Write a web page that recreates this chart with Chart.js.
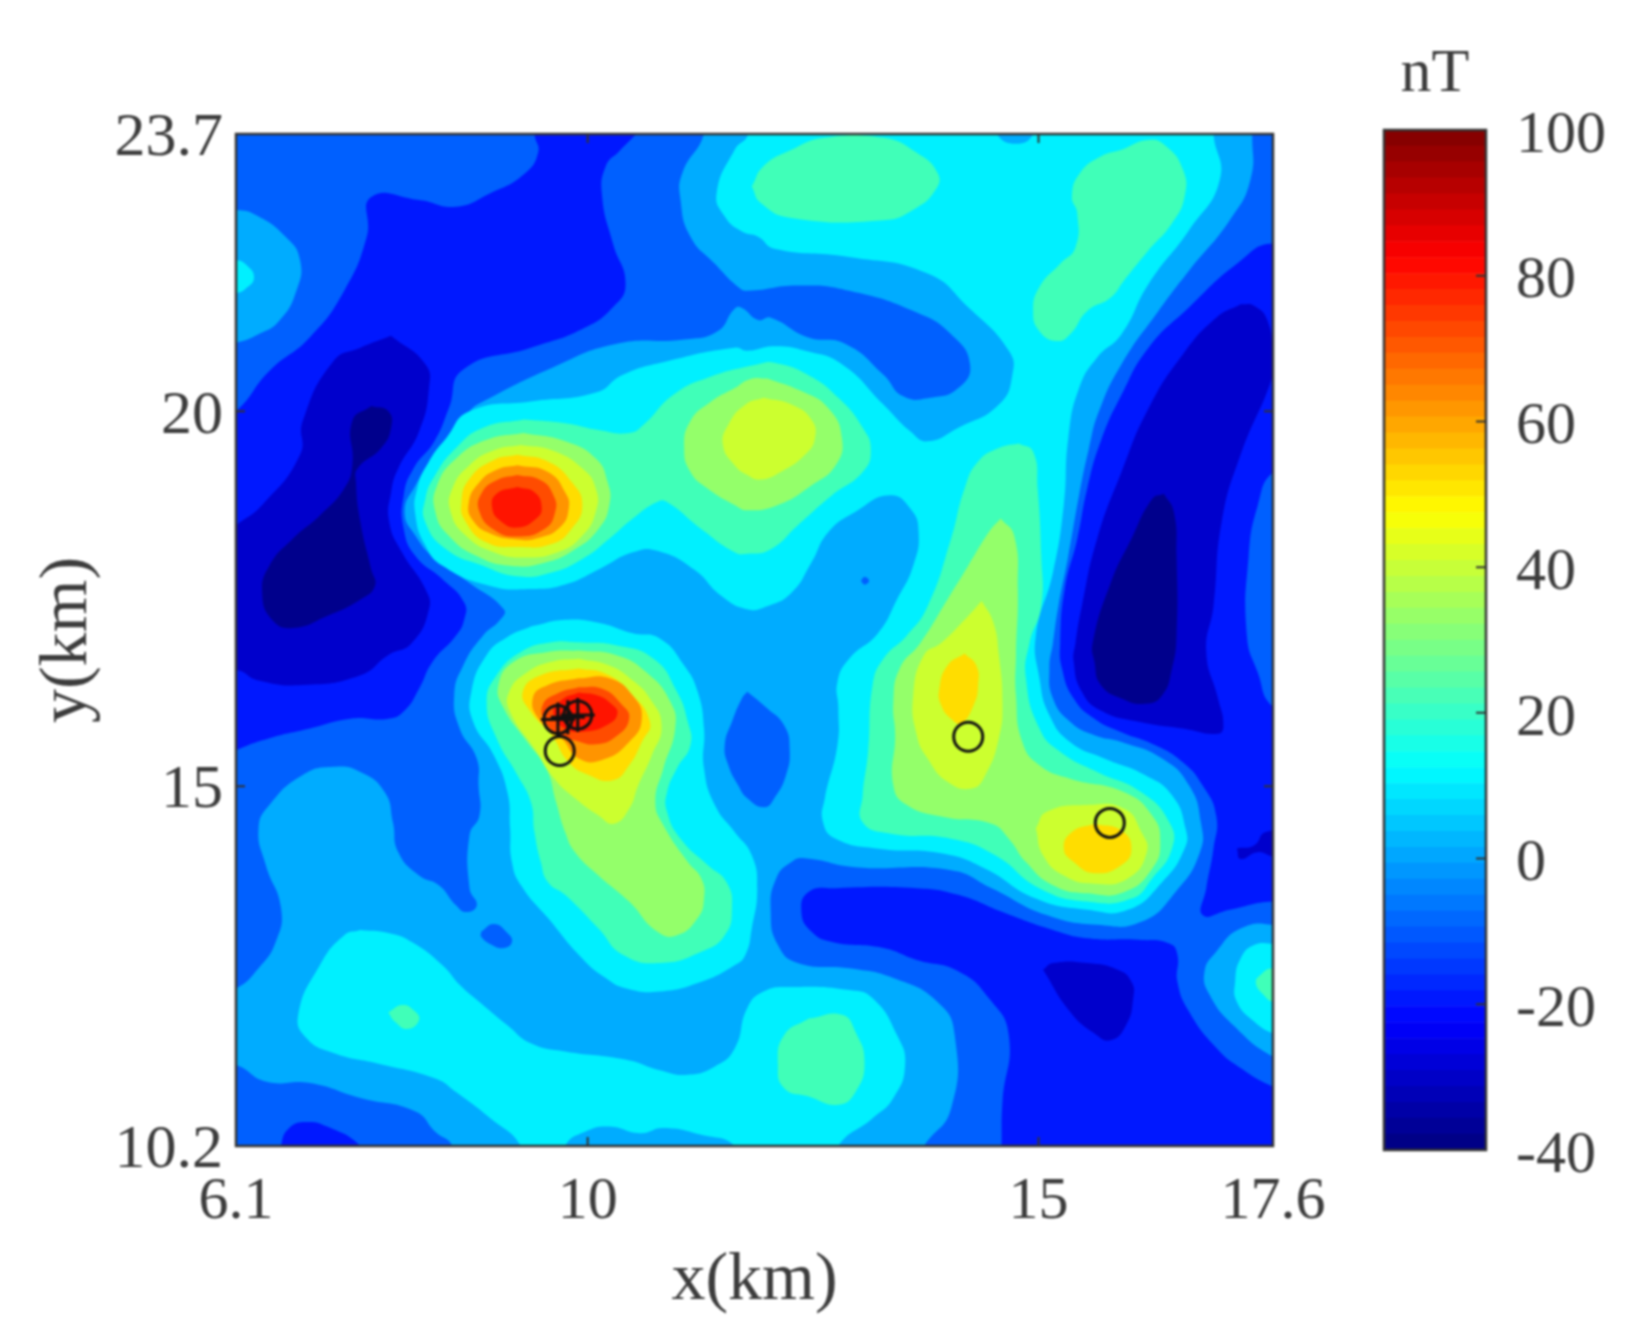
<!DOCTYPE html>
<html>
<head>
<meta charset="utf-8">
<title>Magnetic anomaly map</title>
<script src="https://cdn.jsdelivr.net/npm/chart.js@4"></script>
<style>
  body { margin: 0; background: #fff; }
  canvas { position: absolute; top: 0; filter: blur(0.9px); }
  #myChart { left: 0; }
  #colorBar { left: 1340px; }
</style>
</head>
<body>
<canvas id="myChart" width="1628" height="1340"></canvas>
<canvas id="colorBar" width="288" height="1340"></canvas>
<script>
// axis ticks
const xTicks = [6.1, 10, 15, 17.6];
const yTicks = [10.2, 15, 20, 23.7];
const xInnerTicks = [10, 15];
const yInnerTicks = [15, 20];

// markers, km
const circles = [[9.69,15.47],[14.22,15.66],[15.79,14.51]];
const crossedCircles = [[9.67,15.89],[9.89,15.95]];
const crosses = [[9.67,15.89],[9.78,15.92],[9.89,15.95]];

// contour outlines, [x km, y km]
const plotArea = [[5,9],[5,25],[19,25],[19,9]];

const blueTopLeft = [[9.41,24.1],[9.41,23.7],[9.45,23.45],[9.29,23.16],[8.92,22.91],[8.54,22.73],[8.13,22.82],[7.6,22.86],[7.55,22.33],[7.3,21.61],[6.92,20.99],[6.47,20.54],[6.1,20],[5.8,19.8],[5.8,15.3],[6.1,15.48],[6.47,15.64],[6.92,15.77],[7.37,15.9],[7.79,15.9],[7.97,16.01],[8.13,16.3],[8.28,16.66],[8.54,17.01],[8.63,17.22],[8.63,17.45],[8.39,17.76],[8.09,18.07],[7.96,18.43],[7.96,18.88],[8.07,19.24],[8.3,19.6],[8.46,20.04],[8.62,20.56],[9.37,20.85],[9.94,21.1],[10.28,21.39],[10.42,21.7],[10.28,22.24],[10.16,22.87],[10.2,23.27],[10.35,23.47],[10.54,23.7],[10.7,23.9]];
const blueBottomRight = [[14.59,9.8],[14.59,10.2],[14.6,10.79],[14.67,11.68],[14.45,12.17],[14.11,12.53],[13.65,12.68],[13.28,12.84],[12.71,12.92],[12.48,13.06],[12.37,13.32],[12.45,13.59],[12.75,13.64],[13.65,13.64],[14.11,13.55],[14.6,13.32],[15.16,13.08],[15.54,12.97],[16.11,12.95],[16.45,12.9],[16.54,12.75],[16.54,12.39],[16.67,11.99],[16.97,11.51],[17.24,11.24],[17.6,10.99],[18.2,10.7],[18.2,9.8]];
const blueRight = [[18,22],[17.6,22.24],[17.2,21.97],[16.67,21.39],[16.22,20.85],[15.92,20.22],[15.69,19.6],[15.54,18.97],[15.43,18.3],[15.29,17.63],[15.24,16.91],[15.26,16.57],[15.39,16.17],[15.62,15.9],[15.92,15.72],[16.29,15.55],[16.6,15.32],[16.82,15.01],[16.97,14.61],[16.94,14.17],[16.86,13.64],[16.82,13.28],[17.12,13.35],[17.6,13.46],[18,13.4],[18,15.9],[17.6,16.06],[17.43,16.52],[17.31,17.01],[17.33,18.07],[17.43,18.74],[17.6,19.19],[18,19.4]];
const blueBottomLeft = [[6.6,9.9],[6.6,10.2],[6.69,10.44],[6.88,10.52],[7.11,10.46],[7.48,10.2],[7.6,9.9]];

const darkLeft = [[7.82,21.01],[8.2,20.63],[8.24,20.31],[8.13,19.73],[7.9,19.24],[7.82,18.92],[7.8,18.52],[7.94,18.12],[8.2,17.63],[8.24,17.36],[8.05,16.91],[7.79,16.75],[7.48,16.48],[6.84,16.35],[6.35,16.41],[6.1,16.55],[5.8,16.5],[5.8,18.2],[6.1,18.48],[6.39,18.75],[6.81,19.42],[6.84,19.87],[7.18,20.67],[7.48,20.85]];
const darkRight = [[17.24,21.43],[16.97,21.25],[16.6,20.76],[16.22,20.04],[15.92,19.19],[15.65,18.3],[15.48,17.4],[15.41,16.91],[15.39,16.66],[15.48,16.26],[15.69,16.01],[16.11,15.86],[16.6,15.77],[16.99,15.7],[17.05,15.81],[16.99,16.17],[16.86,16.79],[16.94,17.4],[17.03,18.52],[17.24,19.42],[17.6,20.49],[17.6,20.76],[17.54,21.21],[17.39,21.41]];
const darkMiddle = [[15.05,12.55],[15.16,12.64],[15.54,12.64],[15.88,12.55],[16.03,12.39],[16.05,12.17],[15.97,11.81],[15.8,11.61],[15.62,11.7],[15.35,11.99]];
const darkEdge = [[17.2,14.17],[17.39,14.21],[17.52,14.39],[17.8,14.35],[17.8,14.05],[17.6,14.06],[17.43,14.12],[17.24,14.03]];

const navyLeft = [[7.6,20.07],[7.79,20],[7.82,19.78],[7.71,19.51],[7.45,19.24],[7.43,19.06],[7.48,18.52],[7.6,17.89],[7.64,17.67],[7.48,17.49],[7.11,17.27],[6.73,17.11],[6.5,17.22],[6.39,17.58],[6.47,17.94],[6.73,18.3],[7.03,18.61],[7.3,18.97],[7.39,19.28],[7.39,19.87]];
const navyRight = [[16.39,18.9],[16.26,18.83],[16.03,18.3],[15.8,17.71],[15.6,16.91],[15.62,16.66],[15.69,16.35],[15.92,16.17],[16.18,16.1],[16.37,16.21],[16.48,16.57],[16.53,17.01],[16.53,18.07],[16.5,18.66]];

const skyMain = [[17.37,24.1],[17.37,23.7],[17.35,23.09],[17.12,22.55],[16.67,21.88],[16.33,21.34],[15.92,20.63],[15.67,20],[15.56,19.51],[15.45,18.88],[15.33,18.07],[15.22,17.4],[15.16,16.91],[15.12,16.57],[15.16,16.17],[15.35,15.86],[15.62,15.68],[15.92,15.59],[16.37,15.37],[16.67,15.01],[16.8,14.52],[16.79,14.12],[16.52,13.59],[16.14,13.19],[15.65,13.15],[15.09,13.28],[14.48,13.64],[14.03,13.88],[12.97,13.92],[12.41,14.04],[12.26,13.99],[12.09,13.77],[12.03,13.32],[12.11,12.88],[12.33,12.64],[12.9,12.57],[13.39,12.44],[13.88,12.12],[14.07,11.68],[14.03,10.7],[13.73,10.2],[13.6,9.9],[8.5,9.9],[8.5,10.2],[8.31,10.39],[8.09,10.66],[7.48,10.84],[6.92,11.04],[6.43,11.06],[6.1,11.28],[5.8,11.3],[5.8,12.2],[6.1,12.3],[6.35,12.57],[6.54,12.92],[6.6,13.37],[6.43,13.95],[6.35,14.44],[6.47,14.75],[6.84,15.15],[7.18,15.26],[7.48,15.19],[7.75,14.92],[7.84,14.52],[7.9,14.12],[8.13,13.81],[8.35,13.68],[8.54,13.41],[8.65,13.32],[8.77,13.41],[8.69,13.64],[8.69,14.35],[8.8,14.61],[8.79,15.01],[8.77,15.37],[8.58,15.77],[8.52,16.21],[8.62,16.61],[8.84,17.01],[9.03,17.22],[9.07,17.36],[8.69,17.71],[8.31,18.03],[8.09,18.34],[7.97,18.66],[8.09,19.01],[8.31,19.42],[8.46,19.6],[8.69,20],[8.84,20.13],[9.6,20.58],[10.31,20.9],[11.07,20.96],[11.44,21.07],[11.63,21.37],[11.71,21.38],[11.89,21.22],[12.03,21.25],[12.44,20.99],[12.86,20.9],[13.28,20.49],[13.5,20.2],[13.8,20.18],[14.11,20.31],[14.24,20.63],[14.03,21.03],[13.65,21.32],[12.9,21.61],[12.33,21.68],[11.77,21.61],[11.67,21.66],[11.41,21.97],[11.14,22.33],[11.03,22.82],[11.05,23.18],[11.29,23.7],[11.29,24.1]];
const skyLeftEdge = [[5.8,22.7],[6.1,22.69],[6.32,22.62],[6.65,22.33],[6.81,22.02],[6.77,21.61],[6.58,21.21],[6.35,21.03],[6.1,20.92],[5.8,20.9]];
const skyRightEdge = [[17.9,13],[17.6,13.15],[17.24,13.1],[16.97,12.79],[16.84,12.52],[16.9,12.21],[17.16,11.81],[17.6,11.39],[17.9,11.3]];

const lakeMiddle = [[11.77,16.26],[11.99,16.04],[12.18,15.81],[12.24,15.5],[12.2,15.15],[12.07,14.84],[11.96,14.72],[11.77,14.84],[11.67,15.01],[11.56,15.28],[11.52,15.55],[11.6,15.86],[11.71,16.17]];
const lakeOval = [[8.82,13.06],[8.96,13.16],[9.11,13.04],[9.16,12.92],[9.07,12.84],[8.94,12.88],[8.82,12.99]];
const lakeDot = [[13.03,17.74],[13.07,17.79],[13.12,17.74],[13.07,17.69]];

const cyanMain = [[11.78,24.1],[11.78,23.7],[11.63,23.49],[11.43,22.91],[11.52,22.6],[11.71,22.4],[11.89,22.33],[12.07,22.17],[12.9,22.06],[13.77,21.84],[14.22,21.39],[14.67,20.81],[14.71,20.49],[14.56,20.09],[14.11,19.78],[13.77,19.6],[13.58,19.73],[13.28,20.09],[12.82,20.63],[12.41,20.81],[12.07,20.87],[11.77,20.81],[11.63,20.85],[10.88,20.67],[10.39,20.49],[10.09,20.25],[9.37,20.13],[8.69,20],[8.43,19.64],[8.24,19.33],[8.11,18.97],[8.09,18.61],[8.2,18.21],[8.39,17.94],[8.92,17.67],[9.37,17.63],[9.75,17.69],[10.12,17.89],[10.5,18.12],[10.77,18.14],[11.18,17.89],[11.48,17.54],[11.77,17.36],[11.99,17.4],[12.26,17.58],[12.48,17.98],[12.67,18.39],[12.97,18.66],[13.35,18.88],[13.58,18.7],[13.67,18.39],[13.61,17.94],[13.43,17.49],[13.22,17.04],[12.9,16.7],[12.77,16.39],[12.78,16.04],[12.77,15.55],[12.63,14.84],[12.61,14.52],[12.75,14.3],[13.2,14.17],[13.95,14.1],[14.41,13.9],[14.97,13.5],[15.54,13.35],[15.99,13.35],[16.37,13.72],[16.62,14.17],[16.63,14.44],[16.48,14.88],[16.18,15.15],[15.73,15.37],[15.35,15.59],[15.12,15.95],[15.01,16.44],[14.97,17.01],[15.16,17.85],[15.28,18.75],[15.33,19.64],[15.45,20.31],[15.65,20.72],[15.92,21.03],[16.22,21.7],[16.67,22.42],[17.01,23.09],[16.94,23.7],[16.94,24.1]];
const cyanHot = [[9.37,17.13],[9.75,17.22],[10.12,17.18],[10.5,17.04],[10.8,16.97],[11.07,16.61],[11.22,16.26],[11.29,15.77],[11.29,15.24],[11.41,14.75],[11.63,14.39],[11.82,14.08],[11.88,13.64],[11.82,13.1],[11.75,12.75],[11.63,12.61],[11.26,12.39],[10.8,12.26],[10.43,12.3],[10.2,12.44],[9.94,12.7],[9.56,13.24],[9.26,13.68],[9.16,13.99],[9.14,14.44],[9.11,14.92],[8.96,15.41],[8.73,15.86],[8.71,16.26],[8.88,16.75],[9.11,16.99]];
const cyanBottom = [[7.48,13.08],[7.3,13.01],[7.03,12.61],[6.79,11.95],[6.88,11.64],[7.18,11.44],[7.67,11.3],[8.31,11.1],[8.54,10.92],[8.92,10.57],[9.26,10.2],[9.26,9.9],[12.78,9.9],[12.78,10.2],[13.16,10.57],[13.39,10.84],[13.52,11.28],[13.43,11.68],[13.16,12.17],[12.9,12.28],[12.26,12.32],[11.95,12.26],[11.77,12.04],[11.63,11.5],[11.41,11.26],[11.11,11.15],[10.8,11.21],[10.43,11.35],[9.75,11.46],[9.37,11.57],[9.11,11.81],[8.8,12.12],[8.58,12.35],[8.39,12.61],[8.05,12.92],[7.79,13.04]];
const cyanRightEdge = [[17.9,12.9],[17.6,12.9],[17.39,12.88],[17.24,12.7],[17.18,12.39],[17.2,12.12],[17.39,11.86],[17.6,11.7],[17.9,11.6]];
const cyanLeftEdge = [[5.9,22.05],[6.1,22.02],[6.2,21.97],[6.3,21.79],[6.2,21.63],[6.1,21.58],[5.9,21.55]];

const skyBump = [[9.75,9.9],[9.75,10.2],[9.97,10.39],[10.24,10.46],[10.58,10.37],[10.84,10.44],[11.26,10.35],[11.63,10.2],[11.63,9.9]];
const skyNick = [[14.54,24],[14.54,23.7],[14.75,23.57],[14.94,23.7],[14.94,24]];

const mintTop = [[11.82,23],[11.95,23.27],[12.26,23.49],[12.63,23.65],[13.28,23.65],[13.65,23.45],[13.88,23.18],[13.86,22.96],[13.61,22.69],[13.28,22.55],[12.26,22.58],[11.92,22.78]];
const mintTopRight = [[15.92,23.49],[16.22,23.62],[16.41,23.54],[16.6,23.23],[16.62,22.87],[16.48,22.51],[16.22,22.15],[15.95,21.75],[15.8,21.52],[15.54,21.34],[15.35,21.03],[15.2,20.94],[15.01,21.07],[14.94,21.34],[15.01,21.66],[15.24,21.97],[15.41,22.19],[15.43,22.64],[15.37,22.87],[15.46,23.18],[15.69,23.4]];
const mintUpper = [[9.29,19.89],[9.75,19.84],[10.12,19.75],[10.46,19.71],[10.62,19.82],[10.95,20.22],[11.33,20.45],[11.89,20.63],[12.07,20.65],[12.44,20.49],[12.78,20.18],[13.05,19.78],[13.14,19.48],[13.05,19.19],[12.71,18.88],[12.33,18.48],[12.03,18.16],[11.77,18.1],[11.63,18.12],[11.26,18.43],[10.88,18.79],[10.77,18.79],[10.5,18.57],[10.24,18.3],[9.94,18.03],[9.6,17.85],[9.22,17.8],[8.84,17.94],[8.43,18.16],[8.2,18.52],[8.2,18.83],[8.31,19.15],[8.54,19.51],[8.84,19.78]];
const mintHot = [[9.9,16.92],[10.31,16.88],[10.73,16.7],[10.99,16.26],[11.11,15.86],[11.14,15.55],[10.99,15.24],[10.88,14.92],[10.88,14.66],[11.03,14.3],[11.33,13.95],[11.54,13.72],[11.6,13.37],[11.52,13.01],[11.26,12.79],[10.8,12.64],[10.39,12.75],[10.12,13.1],[9.75,13.55],[9.56,13.72],[9.48,13.99],[9.41,14.39],[9.37,14.79],[9.22,15.15],[8.99,15.64],[8.88,16.12],[8.99,16.48],[9.26,16.79],[9.6,16.92]];
const mintRight = [[14.78,19.57],[14.94,19.46],[14.99,18.97],[15.03,18.07],[15.03,17.4],[14.9,16.91],[14.86,16.44],[15.01,15.77],[15.24,15.46],[15.65,15.19],[16.14,14.92],[16.45,14.52],[16.48,14.17],[16.26,13.77],[16.03,13.5],[15.54,13.46],[15.01,13.64],[14.52,14.08],[14.03,14.3],[13.35,14.37],[13.05,14.52],[13.05,14.88],[13.11,15.46],[13.16,16.35],[13.28,16.7],[13.54,17.01],[13.77,17.4],[14.03,18.3],[14.18,18.97],[14.33,19.33],[14.56,19.51]];
const mintBottom = [[12.45,11.9],[12.82,11.95],[12.97,11.72],[13.07,11.32],[12.97,10.92],[12.78,10.75],[12.45,10.86],[12.18,10.97],[12.11,11.28],[12.18,11.68]];
const mintSpot = [[7.79,11.98],[7.94,12.08],[8.07,12.01],[8.13,11.88],[8,11.76],[7.86,11.86]];
const mintEdge = [[17.9,12.5],[17.6,12.57],[17.46,12.48],[17.41,12.37],[17.5,12.21],[17.6,12.12],[17.9,12.05]];

const greenLeft = [[9.29,19.71],[9.75,19.6],[10.09,19.37],[10.22,19.06],[10.24,18.75],[10.12,18.43],[9.86,18.16],[9.52,17.98],[9.14,17.94],[8.77,18.07],[8.46,18.34],[8.31,18.66],[8.33,19.01],[8.54,19.37],[8.88,19.62]];
const greenCenter = [[11.99,20.44],[12.37,20.27],[12.67,20.04],[12.82,19.64],[12.75,19.28],[12.48,19.01],[12.11,18.75],[11.77,18.68],[11.63,18.75],[11.33,18.97],[11.14,19.19],[11.07,19.51],[11.14,19.87],[11.37,20.13],[11.63,20.31],[11.8,20.43]];
const greenHot = [[9.9,16.81],[10.31,16.75],[10.65,16.52],[10.92,16.12],[10.97,15.77],[10.84,15.24],[10.75,14.79],[10.84,14.48],[11.11,13.99],[11.26,13.77],[11.29,13.5],[11.22,13.24],[10.99,13.01],[10.77,13.06],[10.46,13.46],[10.12,13.81],[9.86,14.12],[9.75,14.39],[9.65,14.79],[9.54,15.24],[9.33,15.59],[9.07,16.04],[9.01,16.35],[9.18,16.66],[9.56,16.79]];
const greenRight = [[14.58,18.57],[14.45,18.39],[14.22,17.94],[13.99,17.49],[13.69,16.91],[13.46,16.57],[13.39,16.12],[13.41,15.68],[13.39,15.01],[13.54,14.75],[13.95,14.59],[14.48,14.5],[14.67,14.3],[14.86,13.99],[15.16,13.68],[15.54,13.57],[15.95,13.59],[16.26,13.9],[16.35,14.26],[16.26,14.61],[15.95,14.92],[15.35,15.1],[15.01,15.28],[14.82,15.59],[14.75,16.21],[14.75,16.75],[14.77,17.63],[14.73,18.34]];

const limeLeft = [[9.26,19.55],[9.6,19.48],[9.94,19.24],[10.09,18.97],[10.09,18.66],[9.94,18.34],[9.67,18.12],[9.29,18.05],[8.96,18.12],[8.65,18.34],[8.48,18.66],[8.5,18.97],[8.69,19.28],[8.96,19.48]];
const limeCenter = [[11.95,20.18],[12.26,20.09],[12.48,19.89],[12.52,19.64],[12.41,19.42],[12.14,19.19],[11.92,19.09],[11.77,19.15],[11.63,19.28],[11.5,19.55],[11.56,19.82],[11.75,20.09]];
const limeHot = [[9.9,16.7],[10.24,16.61],[10.5,16.41],[10.69,16.17],[10.82,15.81],[10.71,15.41],[10.56,15.01],[10.46,14.7],[10.29,14.5],[10.12,14.61],[9.86,14.84],[9.63,15.1],[9.41,15.5],[9.14,15.99],[9.13,16.26],[9.33,16.52],[9.6,16.66]];
const limeRightUp = [[14.37,17.47],[14.18,17.22],[13.92,16.91],[13.73,16.75],[13.61,16.21],[13.65,15.68],[13.77,15.37],[13.99,15.06],[14.26,14.97],[14.41,15.15],[14.56,15.64],[14.6,16.12],[14.56,16.75],[14.5,17.18]];
const limeRightLow = [[14.97,14.44],[15.09,14.66],[15.54,14.75],[15.95,14.7],[16.14,14.39],[16.2,14.12],[15.99,13.77],[15.62,13.7],[15.28,13.81],[15.05,14.08]];

const yellowLeft = [[9.22,19.42],[9.56,19.33],[9.82,19.06],[9.94,18.75],[9.82,18.43],[9.6,18.23],[9.22,18.19],[8.88,18.25],[8.65,18.52],[8.6,18.79],[8.69,19.1],[8.96,19.35]];
const yellowHot = [[9.9,16.57],[10.2,16.5],[10.46,16.26],[10.69,15.86],[10.6,15.59],[10.46,15.28],[10.28,15.08],[10.01,15.15],[9.79,15.32],[9.6,15.68],[9.37,15.99],[9.28,16.26],[9.48,16.48]];
const yellowRightUp = [[14.18,16.77],[14.31,16.61],[14.33,16.35],[14.28,16.08],[14.14,15.84],[14.03,15.9],[13.92,16.08],[13.9,16.3],[13.99,16.61]];
const yellowRightLow = [[15.62,14.5],[15.92,14.41],[16.03,14.17],[15.92,13.95],[15.62,13.84],[15.39,13.99],[15.28,14.17],[15.37,14.39]];

const orangeLeft = [[9.22,19.28],[9.56,19.19],[9.75,18.92],[9.79,18.7],[9.69,18.45],[9.45,18.31],[9.22,18.29],[8.92,18.37],[8.73,18.54],[8.68,18.77],[8.79,19.04],[8.99,19.22]];
const orangeHot = [[9.9,16.44],[10.24,16.44],[10.5,16.21],[10.6,15.9],[10.46,15.59],[10.16,15.35],[9.9,15.37],[9.71,15.64],[9.48,15.86],[9.39,16.17],[9.56,16.35]];
const fireLeft = [[9.22,19.15],[9.48,19.08],[9.62,18.88],[9.64,18.66],[9.52,18.43],[9.22,18.33],[8.96,18.42],[8.8,18.66],[8.82,18.9],[8.99,19.08]];
const fireHot = [[9.9,16.32],[10.16,16.3],[10.37,16.1],[10.46,15.9],[10.31,15.66],[10.09,15.56],[9.86,15.61],[9.69,15.68],[9.54,15.84],[9.5,16.08],[9.67,16.24]];
const redLeft = [[9.22,18.99],[9.41,18.92],[9.49,18.72],[9.43,18.57],[9.22,18.45],[9.03,18.54],[8.94,18.72],[8.99,18.9]];
const redHot = [[9.9,16.25],[10.11,16.21],[10.26,16.1],[10.33,15.97],[10.22,15.82],[9.97,15.73],[9.75,15.77],[9.62,15.97],[9.71,16.15]];

// fill colours, lowest band to highest
const navy = "#00008c", dark = "#0000cc", blue = "#0018ff", mid = "#0060ff", sky = "#00acff",
  cyan = "#00f0ff", mint = "#40ffb8", green = "#94ff6a", lime = "#ccff2f", yellow = "#ffdd00",
  orange = "#ff9400", fire = "#ff4c00", red = "#ff1400";

// painted in this order, inner shapes last
const regions = [
  [mid, plotArea],
  [blue, blueTopLeft], [blue, blueBottomRight], [blue, blueRight], [blue, blueBottomLeft],
  [dark, darkLeft], [dark, darkRight], [dark, darkMiddle], [dark, darkEdge],
  [navy, navyLeft], [navy, navyRight],
  [sky, skyMain], [sky, skyLeftEdge], [sky, skyRightEdge],
  [mid, lakeMiddle], [mid, lakeOval], [mid, lakeDot],
  [cyan, cyanMain], [cyan, cyanHot], [cyan, cyanBottom], [cyan, cyanRightEdge], [cyan, cyanLeftEdge],
  [sky, skyBump], [sky, skyNick],
  [mint, mintTop], [mint, mintTopRight], [mint, mintUpper], [mint, mintHot], [mint, mintRight], [mint, mintBottom], [mint, mintSpot], [mint, mintEdge],
  [green, greenLeft], [green, greenCenter], [green, greenHot], [green, greenRight],
  [lime, limeLeft], [lime, limeCenter], [lime, limeHot], [lime, limeRightUp], [lime, limeRightLow],
  [yellow, yellowLeft], [yellow, yellowHot], [yellow, yellowRightUp], [yellow, yellowRightLow],
  [orange, orangeLeft], [orange, orangeHot],
  [fire, fireLeft], [fire, fireHot],
  [red, redLeft], [red, redHot],
];

// colour bar
const barTicks = [-40, -20, 0, 20, 40, 60, 80, 100];
const barEdges = [-40,-37.81,-35.63,-33.44,-31.25,-29.06,-26.88,-24.69,-22.5,-20.31,-18.13,-15.94,-13.75,-11.56,-9.38,-7.19,-5,-2.81,-0.63,1.56,3.75,5.94,8.13,10.31,12.5,14.69,16.88,19.06,21.25,23.44,25.63,27.81,30,32.19,34.38,36.56,38.75,40.94,43.13,45.31,47.5,49.69,51.88,54.06,56.25,58.44,60.63,62.81,65,67.19,69.38,71.56,73.75,75.94,78.13,80.31,82.5,84.69,86.88,89.06,91.25,93.44,95.63,97.81,100];

const textColor = "#3c3c3c";
const frameColor = "#333";
const serif = "'Liberation Serif', serif";

function jetColor(t) {
  const ch = (c) => Math.round(255 * Math.max(0, Math.min(1, 1.5 - Math.abs(4 * t - c))));
  return `rgb(${ch(3)},${ch(2)},${ch(1)})`;
}

// box round the plot plus the short inward ticks
function frame(drawTicks) {
  return {
    id: "frame",
    afterDraw(chart) {
      const { ctx, chartArea: a } = chart;
      ctx.save();
      ctx.strokeStyle = frameColor;
      ctx.lineWidth = 2.5;
      ctx.strokeRect(a.left, a.top, a.right - a.left, a.bottom - a.top);
      ctx.lineWidth = 2;
      ctx.beginPath();
      drawTicks(chart, ctx, a);
      ctx.stroke();
      ctx.restore();
    },
  };
}

const datasets = [
  { data: crosses, showLine: false, pointStyle: "cross", pointRadius: 17, pointBorderWidth: 3, pointBorderColor: "#111" },
  { data: crossedCircles, showLine: false, pointStyle: "circle", pointRadius: 14, pointBorderWidth: 3, pointBorderColor: "#111", pointBackgroundColor: "transparent" },
  { data: circles, showLine: false, pointStyle: "circle", pointRadius: 14.5, pointBorderWidth: 3, pointBorderColor: "#111", pointBackgroundColor: "transparent" },
];
// first dataset ends up on top, so the list goes in backwards
regions.slice().reverse().forEach(([color, shape]) => {
  datasets.push({
    data: shape.concat([shape[0]]),
    fill: "shape",
    backgroundColor: color,
    borderWidth: 0,
    pointRadius: 0,
    tension: shape === plotArea ? 0 : 0.5,
  });
});

new Chart("myChart", {
  type: "line",
  data: { datasets: datasets },
  options: {
    responsive: false,
    animation: false,
    layout: { padding: { top: 134, right: 355 } },
    plugins: { legend: { display: false }, tooltip: { enabled: false } },
    scales: {
      x: {
        type: "linear",
        min: 6.1,
        max: 17.6,
        afterBuildTicks: (axis) => { axis.ticks = xTicks.map((v) => ({ value: v })); },
        afterFit: (axis) => { axis.height = 194; },
        grid: { display: false, drawTicks: false },
        border: { display: false },
        ticks: { autoSkip: false, maxRotation: 0, padding: 20, color: textColor, font: { family: serif, size: 60 }, callback: (v) => String(v) },
        title: { display: true, text: "x(km)", color: textColor, font: { family: serif, size: 68 }, padding: { top: 0, bottom: 18 } },
      },
      y: {
        type: "linear",
        min: 10.2,
        max: 23.7,
        afterBuildTicks: (axis) => { axis.ticks = yTicks.map((v) => ({ value: v })); },
        afterFit: (axis) => { axis.width = 236; },
        grid: { display: false, drawTicks: false },
        border: { display: false },
        ticks: { autoSkip: false, padding: 13, labelOffset: 5, color: textColor, font: { family: serif, size: 62 }, callback: (v) => String(v) },
        title: { display: true, text: "y(km)", color: textColor, font: { family: serif, size: 68 }, padding: { top: 27, bottom: 0 } },
      },
    },
  },
  plugins: [frame((chart, ctx, a) => {
    xInnerTicks.forEach((v) => {
      const px = chart.scales.x.getPixelForValue(v);
      ctx.moveTo(px, a.top); ctx.lineTo(px, a.top + 9);
      ctx.moveTo(px, a.bottom); ctx.lineTo(px, a.bottom - 9);
    });
    yInnerTicks.forEach((v) => {
      const py = chart.scales.y.getPixelForValue(v);
      ctx.moveTo(a.left, py); ctx.lineTo(a.left + 9, py);
      ctx.moveTo(a.right, py); ctx.lineTo(a.right - 9, py);
    });
  })],
});

new Chart("colorBar", {
  type: "bar",
  data: {
    labels: ["nT"],
    datasets: barEdges.slice(0, -1).map((low, i) => ({
      data: [[low, barEdges[i + 1]]],
      backgroundColor: jetColor((i + 0.5) / (barEdges.length - 1)),
      grouped: false,
      barPercentage: 1,
      categoryPercentage: 1,
    })),
  },
  options: {
    responsive: false,
    animation: false,
    layout: { padding: { left: 44, bottom: 190 } },
    plugins: { legend: { display: false }, tooltip: { enabled: false } },
    scales: {
      x: {
        position: "top",
        afterFit: (axis) => { axis.height = 130; },
        grid: { display: false, drawTicks: false },
        border: { display: false },
        ticks: { display: false },
        title: { display: true, text: "nT", color: textColor, font: { family: serif, size: 62 }, padding: { top: 38, bottom: 0 } },
      },
      y: {
        position: "right",
        min: -40,
        max: 100,
        afterBuildTicks: (axis) => { axis.ticks = barTicks.map((v) => ({ value: v })); },
        afterFit: (axis) => { axis.width = 142; },
        grid: { display: false, drawTicks: false },
        border: { display: false },
        ticks: { padding: 30, labelOffset: 6, color: textColor, font: { family: serif, size: 60 } },
      },
    },
  },
  plugins: [frame((chart, ctx, a) => {
    barTicks.slice(1, -1).forEach((v) => {
      const py = chart.scales.y.getPixelForValue(v);
      ctx.moveTo(a.right, py); ctx.lineTo(a.right - 10, py);
    });
  })],
});
</script>
</body>
</html>
